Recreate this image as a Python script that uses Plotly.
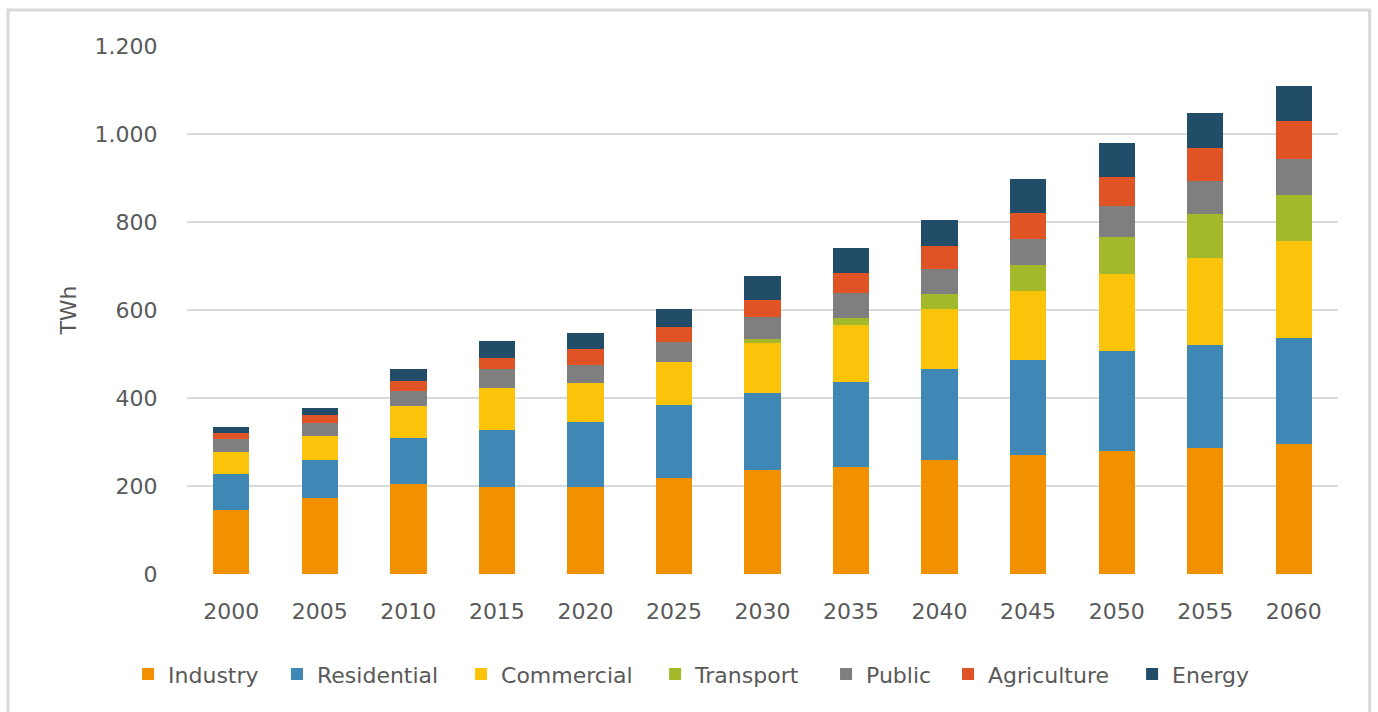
import plotly.graph_objects as go

years = ["2000", "2005", "2010", "2015", "2020", "2025", "2030", "2035", "2040", "2045", "2050", "2055", "2060"]

industry    = [145, 173, 204, 197, 197, 218, 236, 244, 260, 270, 280, 287, 295]
residential = [83, 86, 106, 130, 148, 165, 176, 193, 206, 216, 227, 233, 241]
commercial  = [50, 55, 72, 96, 89, 98, 112, 129, 136, 157, 174, 199, 220]
transport   = [0, 0, 0, 0, 0, 0, 10, 15, 35, 60, 86, 99, 106]
public      = [29, 30, 35, 42, 42, 46, 51, 57, 56, 59, 70, 75, 82]
agriculture = [14, 17, 22, 27, 36, 34, 38, 45, 53, 58, 66, 76, 86]
energy      = [12, 16, 27, 38, 36, 41, 55, 57, 58, 77, 76, 78, 79]

series = [
    ("Industry", industry, "#F29100"),
    ("Residential", residential, "#3F88B6"),
    ("Commercial", commercial, "#FBC30A"),
    ("Transport", transport, "#A4B82B"),
    ("Public", public, "#7F7F7F"),
    ("Agriculture", agriculture, "#DF5324"),
    ("Energy", energy, "#224D69"),
]

y_ticks = [0, 200, 400, 600, 800, 1000, 1200]
y_labels = ["0", "200", "400", "600", "800", "1.000", "1.200"]

# legend entry positions (paper fraction of plot width)
legend_x = [-0.0512, 0.0782, 0.2381, 0.4067, 0.5552, 0.6612, 0.8211]

FONT = "DejaVu Sans"
GREY = "#595959"
FS = 22

fig = go.Figure()
layout_legends = {}
for i, (name, vals, color) in enumerate(series):
    lname = "legend" if i == 0 else f"legend{i + 1}"
    fig.add_trace(go.Bar(x=years, y=vals, name=name, legend=lname,
                         marker=dict(color=color, line=dict(width=0))))
    layout_legends[lname] = dict(orientation="h", x=legend_x[i], xanchor="left",
                                 y=-0.19, yanchor="middle",
                                 font=dict(size=FS, color=GREY),
                                 bgcolor="rgba(0,0,0,0)", itemwidth=30)

fig.update_layout(
    barmode="stack",
    bargap=0.59,
    width=1378, height=712,
    margin=dict(l=187, r=40, t=46, b=138),
    paper_bgcolor="white",
    plot_bgcolor="white",
    font=dict(family=FONT, size=FS, color=GREY),
    xaxis=dict(type="category", showgrid=False, showline=False,
               ticks="outside", ticklen=18, tickcolor="rgba(0,0,0,0)",
               tickfont=dict(size=FS, color=GREY)),
    yaxis=dict(range=[0, 1200], tickvals=y_ticks, ticktext=y_labels,
               showgrid=True, gridcolor="#D9D9D9", gridwidth=2,
               zeroline=False, showline=False,
               ticks="outside", ticklen=24, tickcolor="rgba(0,0,0,0)",
               tickfont=dict(size=FS, color=GREY),
               title=dict(text="TWh", font=dict(size=FS, color=GREY), standoff=11)),
    showlegend=True,
    **layout_legends,
)

fig.add_shape(type="rect", xref="paper", yref="paper",
              x0=-0.1555, x1=1.0275, y0=-0.30, y1=1.068,
              line=dict(color="#D9D9D9", width=3), fillcolor="rgba(0,0,0,0)", layer="below")

fig.write_html("out.html")
